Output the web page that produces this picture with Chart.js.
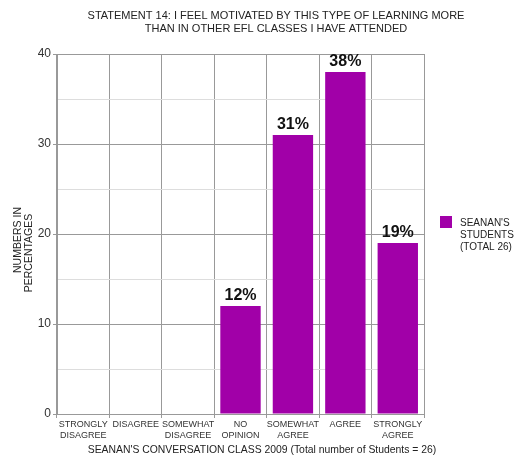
<!DOCTYPE html>
<html>
<head>
<meta charset="utf-8">
<script src="https://cdn.jsdelivr.net/npm/chart.js@4"></script>
<style>
  html, body { margin: 0; padding: 0; background: #fff; }
  #wrap { width: 518px; height: 462px; }
</style>
</head>
<body>
<div id="wrap"><canvas id="chart" width="518" height="462"></canvas></div>
<script>
// survey answers, statement 14
const answers = [
    ['STRONGLY', 'DISAGREE'],
    'DISAGREE',
    ['SOMEWHAT', 'DISAGREE'],
    ['NO', 'OPINION'],
    ['SOMEWHAT', 'AGREE'],
    'AGREE',
    ['STRONGLY', 'AGREE']
];
const percentages = [0, 0, 0, 12, 31, 38, 19];
const seriesLabel = ["SEANAN'S", 'STUDENTS', '(TOTAL 26)'];
const titleLines = ['STATEMENT 14: I FEEL MOTIVATED BY THIS TYPE OF LEARNING MORE', 'THAN IN OTHER EFL CLASSES I HAVE ATTENDED'];
const yTitle = ['NUMBERS IN', 'PERCENTAGES'];
const xTitle = "SEANAN'S CONVERSATION CLASS 2009 (Total number of Students = 26)";
const barColour = '#a100a8';
const font = 'Arial, "Liberation Sans", sans-serif';

// titles, percent labels above the bars and the legend box on the right
const extras = {
    id: 'extras',
    afterDatasetsDraw(chart) {
        const ctx = chart.ctx;
        const a = chart.chartArea;
        const meta = chart.getDatasetMeta(0);
        ctx.save();

        // main title
        ctx.fillStyle = '#222';
        ctx.font = '11px ' + font;
        ctx.textAlign = 'center';
        ctx.textBaseline = 'middle';
        titleLines.forEach((t, i) => ctx.fillText(t, 276, 15.5 + i * 13));

        // x axis title
        ctx.font = '10.4px ' + font;
        ctx.fillText(xTitle, 262, 450.5);

        // y axis title, two rotated lines
        ctx.font = '10.5px ' + font;
        ctx.textBaseline = 'alphabetic';
        [[21, 240], [31.5, 253]].forEach(([x, y], i) => {
            ctx.save();
            ctx.translate(x, y);
            ctx.rotate(-Math.PI / 2);
            ctx.fillText(yTitle[i], 0, 0);
            ctx.restore();
        });

        // value labels
        ctx.fillStyle = '#111';
        ctx.font = 'bold 16px ' + font;
        meta.data.forEach((bar, i) => {
            if (percentages[i] > 0) ctx.fillText(percentages[i] + '%', bar.x, bar.y - 6);
        });

        // legend
        const lx = a.right + 16, ly = 216;
        ctx.fillStyle = barColour;
        ctx.fillRect(lx, ly, 12, 12);
        ctx.fillStyle = '#222';
        ctx.font = '10px ' + font;
        ctx.textAlign = 'left';
        ctx.textBaseline = 'middle';
        seriesLabel.forEach((t, i) => ctx.fillText(t, lx + 20, 223.5 + i * 12));
        ctx.restore();
    }
};

new Chart(document.getElementById('chart'), {
    type: 'bar',
    data: {
        labels: answers,
        datasets: [{
            label: seriesLabel.join(' '),
            data: percentages,
            backgroundColor: barColour,
            borderWidth: 0,
            categoryPercentage: 1,
            barPercentage: 0.77
        }]
    },
    options: {
        responsive: false,
        animation: false,
        layout: { padding: { top: 54, right: 94 } },
        plugins: {
            legend: { display: false },
            tooltip: { enabled: false },
            title: { display: false }
        },
        scales: {
            x: {
                afterFit: s => { s.height = 48; },
                grid: { color: '#999', tickLength: 4, tickColor: '#999' },
                border: { color: '#999' },
                ticks: {
                    color: '#333',
                    font: { family: font, size: 9 },
                    padding: 1,
                    maxRotation: 0,
                    autoSkip: false
                }
            },
            y: {
                min: 0,
                max: 40,
                afterFit: s => { s.width = 57; },
                grid: {
                    color: c => c.tick && c.tick.value % 10 === 0 ? '#999' : '#ddd',
                    tickColor: c => c.tick && c.tick.value % 10 === 0 ? '#999' : 'rgba(0,0,0,0)',
                    tickLength: 4
                },
                border: { color: '#999' },
                ticks: {
                    stepSize: 5,
                    color: '#333',
                    font: { family: font, size: 12 },
                    padding: 2,
                    callback: v => v % 10 === 0 ? v : ''
                }
            }
        }
    },
    plugins: [extras]
});
</script>
</body>
</html>
